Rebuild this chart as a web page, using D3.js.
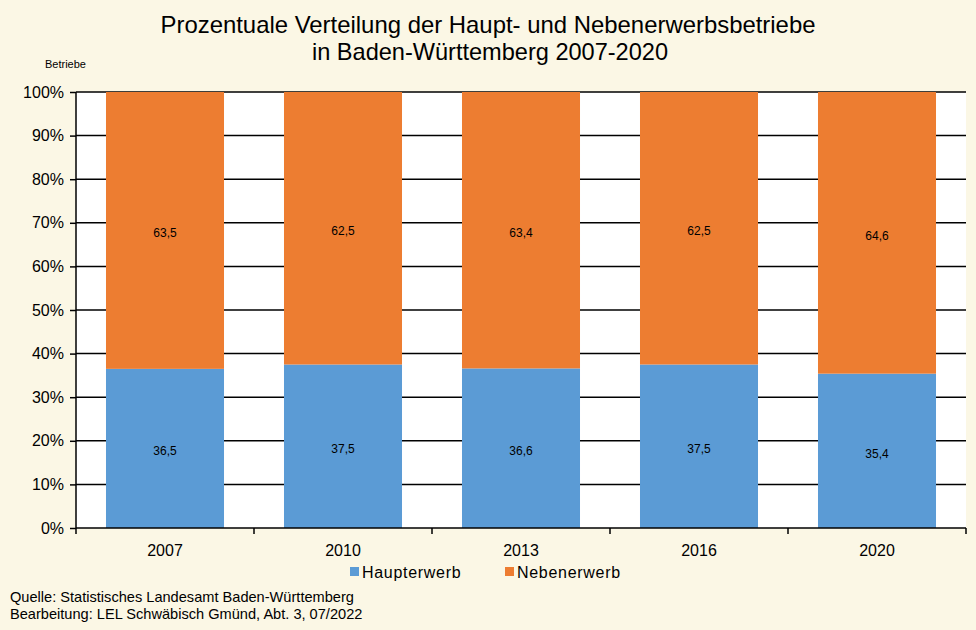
<!DOCTYPE html>
<html>
<head>
<meta charset="utf-8">
<script src="https://cdn.jsdelivr.net/npm/d3@7"></script>
<style>
  body { margin: 0; background: #FBF7E5; }
  svg text { font-family: Arial, "Liberation Sans", sans-serif; fill: #000; }
</style>
</head>
<body>
<svg width="976" height="630"></svg>
<script>
// data
var years = ['2007', '2010', '2013', '2016', '2020'];
var haupterwerb = [36.5, 37.5, 36.6, 37.5, 35.4];
var nebenerwerb = [63.5, 62.5, 63.4, 62.5, 64.6];
var yTicks = [0, 10, 20, 30, 40, 50, 60, 70, 80, 90, 100];
var seriesNames = ['Haupterwerb', 'Nebenerwerb'];
var colors = ['#5B9BD5', '#ED7D31'];

var svg = d3.select('svg');
svg.append('rect').attr('width', 976).attr('height', 630).attr('fill', '#FBF7E5');

var padding = {t: 92, r: 10, b: 102, l: 76};
var chartWidth = 976 - padding.l - padding.r;
var chartHeight = 630 - padding.t - padding.b;

var chartG = svg.append('g')
    .attr('transform', 'translate(' + [padding.l, padding.t] + ')');

var x = d3.scaleBand().domain(years).range([0, chartWidth]).paddingInner(0.337).paddingOuter(0.1685);
var xBand = d3.scaleBand().domain(years).range([0, chartWidth]);
var y = d3.scaleLinear().domain([0, 100]).range([chartHeight, 0]);

// plot area
chartG.append('rect').attr('width', chartWidth).attr('height', chartHeight).attr('fill', '#fff');

// gridlines
chartG.selectAll('.grid').data(yTicks.slice(1)).enter().append('line')
    .attr('x1', 0).attr('x2', chartWidth)
    .attr('y1', function(d) { return y(d); }).attr('y2', function(d) { return y(d); })
    .attr('stroke', '#000').attr('stroke-width', 1.5);

// stacked data
var rows = years.map(function(yr, i) { return {year: yr, Haupterwerb: haupterwerb[i], Nebenerwerb: nebenerwerb[i]}; });
var stacked = d3.stack().keys(seriesNames)(rows);

stacked.forEach(function(layer, k) {
    var g = chartG.append('g');
    g.selectAll('rect').data(layer).enter().append('rect')
        .attr('x', function(d) { return x(d.data.year); })
        .attr('width', x.bandwidth())
        .attr('y', function(d) { return y(d[1]); })
        .attr('height', function(d) { return y(d[0]) - y(d[1]); })
        .attr('fill', colors[k]);
    g.selectAll('text').data(layer).enter().append('text')
        .attr('x', function(d) { return x(d.data.year) + x.bandwidth() / 2; })
        .attr('y', function(d) { return y((d[0] + d[1]) / 2) + 7; })
        .attr('text-anchor', 'middle')
        .style('font-size', '12px')
        .text(function(d) { return String(d.data[layer.key].toFixed(1)).replace('.', ','); });
});

// y axis
var yAxis = d3.axisLeft(y).tickValues(yTicks).tickSize(6).tickPadding(6)
    .tickFormat(function(d) { return d + '%'; });
var yG = chartG.append('g').call(yAxis);
yG.select('.domain').attr('stroke', '#000').attr('stroke-width', 1.5).attr('d', 'M0,0V' + chartHeight);
yG.selectAll('.tick line').attr('stroke', '#000').attr('stroke-width', 1.5);
yG.selectAll('.tick text').style('font-size', '16px').style('font-family', 'Arial, sans-serif');

// x axis
var xG = chartG.append('g').attr('transform', 'translate(0,' + chartHeight + ')');
xG.append('line').attr('x1', 0).attr('x2', chartWidth).attr('stroke', '#000').attr('stroke-width', 1.5);
var bounds = [0].concat(years.map(function(d) { return xBand(d) + xBand.bandwidth(); }));
xG.selectAll('.xt').data(bounds).enter().append('line')
    .attr('x1', function(d) { return d; }).attr('x2', function(d) { return d; })
    .attr('y1', 0).attr('y2', 6).attr('stroke', '#000').attr('stroke-width', 1.5);
xG.selectAll('.xl').data(years).enter().append('text')
    .attr('x', function(d) { return xBand(d) + xBand.bandwidth() / 2; })
    .attr('y', 28).attr('text-anchor', 'middle')
    .style('font-size', '16px')
    .text(function(d) { return d; });

// title
svg.append('text').attr('x', 488).attr('y', 33).attr('text-anchor', 'middle')
    .style('font-size', '24px').attr('textLength', 655).attr('lengthAdjust', 'spacingAndGlyphs')
    .text('Prozentuale Verteilung der Haupt- und Nebenerwerbsbetriebe');
svg.append('text').attr('x', 490).attr('y', 60).attr('text-anchor', 'middle')
    .style('font-size', '24px').attr('textLength', 356).attr('lengthAdjust', 'spacingAndGlyphs')
    .text('in Baden-Württemberg 2007-2020');

svg.append('text').attr('x', 45).attr('y', 68).style('font-size', '11px').text('Betriebe');

// legend
var legendX = [350, 505];
seriesNames.forEach(function(name, i) {
    svg.append('rect').attr('x', legendX[i]).attr('y', 567).attr('width', 9).attr('height', 9).attr('fill', colors[i]);
    svg.append('text').attr('x', legendX[i] + 12).attr('y', 578)
        .style('font-size', '16px').style('letter-spacing', '0.7px').text(name);
});

// source
svg.append('text').attr('x', 10).attr('y', 602).style('font-size', '14.6px').text('Quelle:  Statistisches Landesamt Baden-Württemberg');
svg.append('text').attr('x', 10).attr('y', 619).style('font-size', '14.6px').text('Bearbeitung:  LEL Schwäbisch Gmünd, Abt. 3, 07/2022');
</script>
</body>
</html>
